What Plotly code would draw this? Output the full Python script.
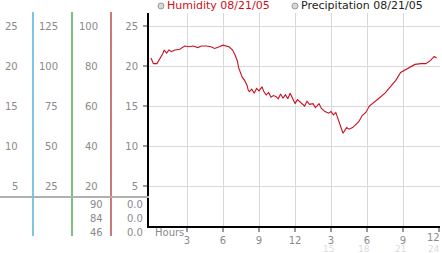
import plotly.graph_objects as go

# ---- data ----
hours = [0.0, 0.2, 0.5, 0.8, 1.0, 1.1, 1.3, 1.5, 1.7, 2.0, 2.4, 2.8, 3.2, 3.5, 3.9, 4.2, 4.6, 5.0,
         5.3, 5.7, 6.0, 6.5, 6.8, 7.0, 7.2, 7.3, 7.5, 7.6, 7.8, 8.0, 8.1, 8.2, 8.4, 8.6, 8.8, 9.0,
         9.25, 9.4, 9.6, 9.8, 10.0, 10.2, 10.4, 10.6, 10.8, 11.0, 11.2, 11.4, 11.6, 11.8, 12.0,
         12.2, 12.4, 12.6, 12.8, 13.0, 13.2, 13.5, 13.7, 14.0, 14.2, 14.5, 14.8, 15.0, 15.2, 15.4,
         15.7, 16.0, 16.3, 16.5, 16.8, 17.0, 17.3, 17.6, 17.9, 18.2, 18.5, 18.8, 19.1, 19.5, 19.9,
         20.4, 20.8, 21.2, 21.6, 22.0, 22.5, 22.9, 23.3, 23.6, 23.8]
humidity = [21.0, 20.3, 20.3, 21.0, 21.6, 22.0, 21.6, 22.0, 21.8, 22.0, 22.1, 22.5, 22.4, 22.5, 22.3,
            22.5, 22.5, 22.4, 22.2, 22.4, 22.6, 22.4, 22.0, 21.4, 20.6, 19.8, 19.0, 18.6, 18.2, 17.6,
            17.0, 16.8, 17.1, 16.6, 17.2, 16.9, 17.4, 16.8, 16.4, 16.7, 16.1, 16.3, 16.2, 15.9, 16.5,
            16.0, 16.4, 15.9, 16.6, 16.0, 15.3, 15.8, 15.5, 15.2, 15.0, 15.6, 15.2, 15.3, 14.8, 15.3,
            14.7, 14.3, 14.1, 14.3, 13.9, 14.2, 13.0, 11.6, 12.3, 12.1, 12.3, 12.6, 13.0, 13.8, 14.2,
            15.0, 15.4, 15.7, 16.1, 16.6, 17.3, 18.2, 19.2, 19.5, 19.9, 20.2, 20.3, 20.3, 20.7, 21.2,
            21.0]

y_ticks = [25, 20, 15, 10, 5]
col1_labels = ["25", "20", "15", "10", "5"]
col2_labels = ["125", "100", "75", "50", "25"]
col3_labels = ["100", "80", "60", "40", "20"]
col4_labels = ["25", "20", "15", "10", "5"]
bottom_col3 = ["90", "84", "46"]
bottom_col4 = ["0.0", "0.0", "0.0"]
x_ticks = [3, 6, 9, 12, 15, 18, 21, 24]
x_labels = ["3", "6", "9", "12", "3", "6", "9", "12"]
x_labels2 = ["15", "18", "21", "24"]

# ---- layout geometry (pixels) ----
W, H = 442, 253
ML, MR, MT, MB = 149, 2, 13, 27
PW, PH = W - ML - MR, H - MT - MB


def px(xp):
    return (xp - ML) / PW


def py(yp):
    return (H - MB - yp) / PH


FONT = "DejaVu Sans"
GRAY = "#8a8a8a"
TICKC = "#9a9a9a"

fig = go.Figure()
fig.add_trace(go.Scatter(x=hours, y=humidity, mode="lines",
                         line=dict(color="#cc1020", width=1.1), hoverinfo="skip",
                         showlegend=False))

ann = []
shapes = []

# left panel labels
for v, a, b, c in zip(y_ticks, col1_labels, col2_labels, col3_labels):
    for txt, xr in ((a, 20), (b, 60), (c, 100)):
        ann.append(dict(text=txt, x=px(xr), xref="paper", y=v, yref="y", xanchor="right",
                        yanchor="middle", showarrow=False,
                        font=dict(family=FONT, size=10, color=GRAY)))

for i, (a, b) in enumerate(zip(bottom_col3, bottom_col4)):
    yy = py(204 + 14 * i)
    ann.append(dict(text=a, x=px(105), xref="paper", y=yy, yref="paper", xanchor="right",
                    yanchor="middle", showarrow=False, font=dict(family=FONT, size=10, color=GRAY)))
    ann.append(dict(text=b, x=px(145), xref="paper", y=yy, yref="paper", xanchor="right",
                    yanchor="middle", showarrow=False, font=dict(family=FONT, size=10, color=GRAY)))

# vertical colored separators and horizontal gray line
for xp, col in ((33, "#3aa6d8"), (72, "#3a9a3a"), (111, "#b03030")):
    shapes.append(dict(type="line", xref="paper", yref="paper", x0=px(xp), x1=px(xp),
                       y0=py(12), y1=py(236), line=dict(color=col, width=1.3)))
shapes.append(dict(type="line", xref="paper", yref="paper", x0=px(0), x1=px(149),
                   y0=py(197), y1=py(197), line=dict(color="#b0b0b0", width=2)))

# x axis extra labels
ann.append(dict(text="Hours", x=px(153), xref="paper", y=py(232), yref="paper", xanchor="left",
                yanchor="middle", showarrow=False, font=dict(family=FONT, size=10, color=GRAY)))
ann.append(dict(text=x_labels[-1], x=px(441), xref="paper", y=py(238), yref="paper",
                xanchor="right", yanchor="middle", showarrow=False, borderpad=0,
                font=dict(family=FONT, size=10, color=GRAY)))
for t, lab in zip(x_ticks[4:], x_labels2):
    last = t == x_ticks[-1]
    ann.append(dict(text=lab, x=px(441) if last else t - 0.25, xref="paper" if last else "x",
                    y=py(249), yref="paper", xanchor="right" if last else "center",
                    yanchor="middle", showarrow=False, borderpad=0,
                    font=dict(family=FONT, size=9, color="#dcdcdc")))

# legend
for cx, txt, col in ((161, "Humidity 08/21/05", "#cc1020"), (295, "Precipitation 08/21/05", "#222222")):
    shapes.append(dict(type="circle", xref="paper", yref="paper", x0=px(cx - 3), x1=px(cx + 3),
                       y0=py(9), y1=py(3), fillcolor="#d8d8d8", line=dict(color="#9a9a9a", width=1)))
    ann.append(dict(text=txt, x=px(cx + 4), xref="paper", y=py(6), yref="paper", xanchor="left",
                    yanchor="middle", showarrow=False, font=dict(family=FONT, size=11, color=col)))

fig.update_layout(
    width=W, height=H, margin=dict(l=ML, r=MR, t=MT, b=MB),
    paper_bgcolor="white", plot_bgcolor="white",
    xaxis=dict(range=[-2 / 12, (PW - 2) / 12], tickvals=x_ticks,
               ticktext=x_labels[:-1] + [""], tickfont=dict(family=FONT, size=10, color=GRAY),
               ticks="outside", ticklen=4, tickwidth=2, tickcolor=TICKC, ticklabelstandoff=0,
               showgrid=True, gridcolor="#d8d8d8", gridwidth=1,
               zeroline=False, showline=True, linecolor="black", linewidth=2),
    yaxis=dict(range=[0, PH / 8], tickvals=y_ticks, ticktext=col4_labels,
               tickfont=dict(family=FONT, size=10, color=GRAY),
               ticks="outside", ticklen=4, tickwidth=2, tickcolor=TICKC, ticklabelstandoff=3,
               showgrid=True, gridcolor="#d8d8d8", gridwidth=1, zeroline=False, showline=True,
               linecolor="black", linewidth=2),
    annotations=ann, shapes=shapes,
)

fig.write_html("out.html")
